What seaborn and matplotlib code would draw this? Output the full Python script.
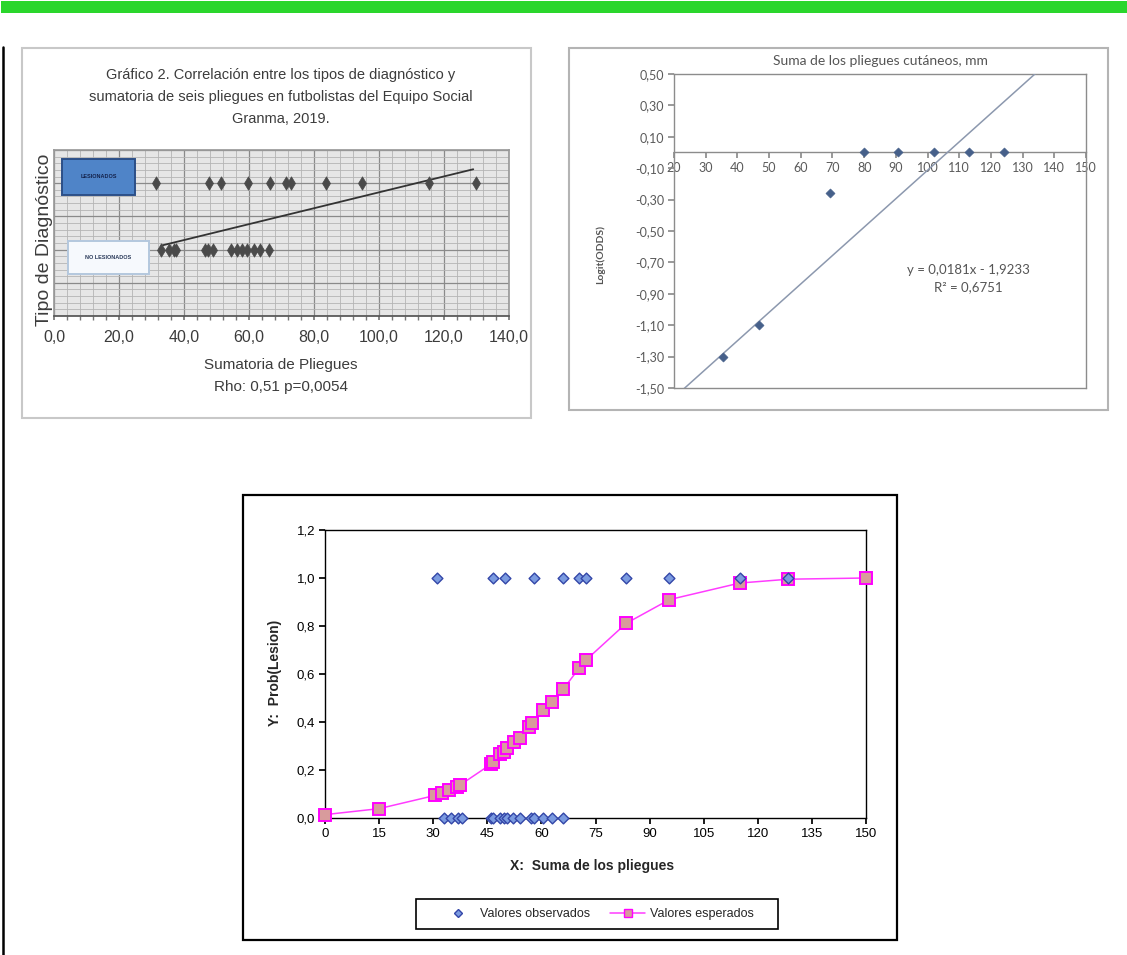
import numpy as np
import matplotlib
matplotlib.use("Agg")
import matplotlib.pyplot as plt
import seaborn as sns
from matplotlib.patches import Rectangle
from matplotlib.lines import Line2D
from matplotlib.ticker import MultipleLocator, FuncFormatter

# Gráfico 2 (arriba izquierda): tipo de diagnóstico vs sumatoria de pliegues
g2_lesionados = [31.4, 47.6, 51.5, 59.8, 66.6, 71.4, 72.8, 83.8, 94.8, 115.4, 129.7]
g2_no_lesionados = [33.0, 35.3, 36.9, 37.6, 46.6, 47.3, 48.9, 54.6, 56.2, 57.8,
                    59.3, 61.4, 63.5, 66.2]
g2_tendencia_x = [33, 129]
g2_tendencia_y = [0.06, 1.21]
g2_xticks = [0, 20, 40, 60, 80, 100, 120, 140]

# Logit(ODDS) vs suma de pliegues (arriba derecha)
logit_x = [35.6, 46.9, 69.1, 80.1, 90.8, 102.0, 113.0, 124.2]
logit_y = [-1.30, -1.10, -0.26, 0.0, 0.0, 0.0, 0.0, 0.0]
logit_pendiente = 0.0181
logit_intercepto = -1.9233
logit_r2 = 0.6751
logit_xticks = list(range(20, 151, 10))
logit_yticks = [0.50, 0.30, 0.10, -0.10, -0.30, -0.50, -0.70, -0.90, -1.10, -1.30, -1.50]

# Probabilidad de lesión (abajo)
obs_lesion_x = [31, 46.5, 50, 58, 66, 70.5, 72.5, 83.5, 95.5, 115, 128.5]
obs_sin_lesion_x = [33, 35, 37, 38, 46, 46.5, 48.5, 49.5, 50.5, 52, 54, 57, 58, 60.5, 63, 66]
esp_x = [0, 15, 30.5, 32.5, 34.5, 36.5, 37.5, 46, 46.5, 48.5, 49.5, 50.5, 52.5, 54,
         56.5, 57.5, 60.5, 63, 66, 70.5, 72.5, 83.5, 95.5, 115, 128.5, 150]
esp_y = [0.014, 0.039, 0.094, 0.106, 0.118, 0.130, 0.138, 0.224, 0.235, 0.265, 0.276,
         0.290, 0.315, 0.335, 0.380, 0.394, 0.452, 0.484, 0.536, 0.625, 0.660, 0.811,
         0.910, 0.979, 0.995, 1.000]
prob_xticks = list(range(0, 151, 15))
prob_yticks = [0.0, 0.2, 0.4, 0.6, 0.8, 1.0, 1.2]

sns.set_theme(style="white")
plt.rcParams['font.family'] = ['Liberation Sans', 'DejaVu Sans']

W, H = 1127, 955
fig = plt.figure(figsize=(W / 100, H / 100), dpi=100)

CALI = ['Lato', 'Liberation Sans', 'DejaVu Sans']


def add_ax(x0, y0, x1, y1):
    return fig.add_axes([x0 / W, 1 - y1 / H, (x1 - x0) / W, (y1 - y0) / H])


def fig_rect(x0, y0, x1, y1, **kw):
    fig.add_artist(Rectangle((x0 / W, 1 - y1 / H), (x1 - x0) / W, (y1 - y0) / H,
                             transform=fig.transFigure, zorder=-5, **kw))


def fig_text(x, y, s, **kw):
    fig.text(x / W, 1 - y / H, s, **kw)


def coma(fmt):
    return FuncFormatter(lambda v, p: format(v, fmt).replace('.', ','))


# franja verde y línea lateral
fig_rect(1, 1, W, 13, facecolor='#2ad62c', edgecolor='none')
fig.add_artist(Line2D([3.5 / W, 3.5 / W], [0, 1 - 47 / H], transform=fig.transFigure,
                      color='black', lw=1.8))

# ---------------- Gráfico izquierda ----------------
fig_rect(22, 48, 531, 418, facecolor='white', edgecolor='#c8c8c8', lw=1.5)
ax1 = add_ax(54, 150, 509, 316)
ax1.set_facecolor('#e6e6e6')
sns.scatterplot(x=g2_lesionados, y=[1] * len(g2_lesionados), marker='d', s=46,
                color='#4a4a4a', edgecolor='#4a4a4a', ax=ax1, zorder=4, legend=False)
sns.scatterplot(x=g2_no_lesionados, y=[0] * len(g2_no_lesionados), marker='d', s=46,
                color='#4a4a4a', edgecolor='#4a4a4a', ax=ax1, zorder=4, legend=False)
sns.lineplot(x=g2_tendencia_x, y=g2_tendencia_y, color='#333333', lw=1.3, ax=ax1, zorder=3)
ax1.set_xlim(0, 140)
ax1.set_ylim(-1.0, 1.5)
ax1.set_xticks(g2_xticks)
ax1.xaxis.set_minor_locator(MultipleLocator(4))
ax1.yaxis.set_major_locator(MultipleLocator(0.5))
ax1.yaxis.set_minor_locator(MultipleLocator(0.1))
ax1.xaxis.set_major_formatter(coma('.1f'))
ax1.yaxis.set_major_formatter(FuncFormatter(lambda v, p: ''))
ax1.grid(which='major', color='#8a8a8a', lw=0.9)
ax1.grid(which='minor', color='#b4b4b4', lw=0.6)
ax1.set_axisbelow(True)
ax1.tick_params(axis='y', which='both', length=0)
ax1.tick_params(axis='x', which='both', direction='out', length=3, color='#777777',
                bottom=True, pad=7, labelsize=11.5, labelcolor='#3c3c3c')
for side in ['top', 'right', 'left']:
    ax1.spines[side].set_color('#9a9a9a')
ax1.spines['bottom'].set_color('#555555')
ax1.set_xlabel('')
ax1.set_ylabel('')

# etiquetas de categoría como cajas
ax1.add_patch(Rectangle((2.6, 0.82), 22.4, 0.55, facecolor='#4f84c8', edgecolor='#2c4f88',
                        lw=1.4, zorder=5))
ax1.text(13.8, 1.1, 'LESIONADOS', fontsize=4, color='#13214a', ha='center', va='center',
         fontweight='bold', zorder=6)
ax1.add_patch(Rectangle((4.2, -0.37), 25, 0.5, facecolor='#f6f9fd', edgecolor='#b4c8de',
                        lw=1.4, zorder=5))
ax1.text(16.7, -0.12, 'NO LESIONADOS', fontsize=4, color='#2a3a5a', ha='center', va='center',
         fontweight='bold', zorder=6)

t1 = dict(ha='center', va='center', color='#3c3c3c')
fig_text(281, 75, 'Gráfico 2. Correlación entre los tipos de diagnóstico y', fontsize=10.5, **t1)
fig_text(281, 97, 'sumatoria de seis pliegues en futbolistas del Equipo Social', fontsize=10.5, **t1)
fig_text(281, 119, 'Granma, 2019.', fontsize=10.5, **t1)
fig_text(281, 365, 'Sumatoria de Pliegues', fontsize=11, **t1)
fig_text(281, 387, 'Rho: 0,51 p=0,0054', fontsize=11, **t1)
fig_text(45, 240, 'Tipo de Diagnóstico', fontsize=14, rotation=90, **t1)

# ---------------- Gráfico derecha (logit) ----------------
fig_rect(569, 48, 1108, 410, facecolor='white', edgecolor='#b4b4b4', lw=1.5)
ax2 = add_ax(674, 74, 1086, 388)
sns.scatterplot(x=logit_x, y=logit_y, marker='D', s=22, color='#46608a',
                edgecolor='#46608a', ax=ax2, zorder=4, legend=False)
linea_x = np.array([20, 150])
sns.lineplot(x=linea_x, y=logit_pendiente * linea_x + logit_intercepto, color='#8c98ae',
             lw=1.1, ax=ax2, zorder=3)
ax2.set_xlim(20, 150)
ax2.set_ylim(-1.5, 0.5)
ax2.set_xticks(logit_xticks)
ax2.set_yticks(logit_yticks)
ax2.xaxis.set_major_formatter(FuncFormatter(lambda v, p: '%d' % v))
ax2.yaxis.set_major_formatter(coma('.2f'))
ax2.spines['bottom'].set_position(('data', 0))
for side in ax2.spines:
    ax2.spines[side].set_color('#8c8c8c')
    ax2.spines[side].set_linewidth(1.0)
ax2.add_line(Line2D([0, 1], [0, 0], transform=ax2.transAxes, color='#8c8c8c', lw=1.0,
                    clip_on=False))
ax2.tick_params(axis='both', direction='out', length=4, color='#8c8c8c', labelsize=9,
                labelcolor='#5a5a5a', pad=3, left=True, bottom=True)
for lab in ax2.get_xticklabels() + ax2.get_yticklabels():
    lab.set_family(CALI)
ax2.set_xlabel('')
ax2.set_ylabel('')
t2 = dict(ha='center', va='center', color='#555555', family=CALI)
fig_text(880, 61, 'Suma de los pliegues cutáneos, mm', fontsize=10, **t2)
fig_text(600, 255, 'Logit(ODDS)', fontsize=7.5, rotation=90, fontweight='bold', **t2)
eq = 'y = %sx - %s' % (format(logit_pendiente, '.4f').replace('.', ','),
                       format(abs(logit_intercepto), '.4f').replace('.', ','))
fig_text(968, 270, eq, fontsize=9.5, **t2)
fig_text(968, 287, 'R² = ' + format(logit_r2, '.4f').replace('.', ','), fontsize=9.5, **t2)

# ---------------- Gráfico inferior (probabilidad) ----------------
fig_rect(243, 495, 897, 940, facecolor='white', edgecolor='black', lw=1.6)
ax3 = add_ax(325, 530, 866, 818)
sns.lineplot(x=esp_x, y=esp_y, color='#ff3cff', lw=1.1, marker='s', markersize=8,
             markerfacecolor='#d89b9c', markeredgecolor='#ff00ff', markeredgewidth=1.4,
             estimator=None, sort=False, ax=ax3, zorder=3, clip_on=False)
sns.scatterplot(x=obs_lesion_x, y=[1.0] * len(obs_lesion_x), marker='D', s=30,
                color='#7b9be0', edgecolor='#3346a8', linewidth=1.0, ax=ax3, zorder=4,
                legend=False)
sns.scatterplot(x=obs_sin_lesion_x, y=[0.0] * len(obs_sin_lesion_x), marker='D', s=30,
                color='#7b9be0', edgecolor='#3346a8', linewidth=1.0, ax=ax3, zorder=4,
                legend=False, clip_on=False)
ax3.set_xlim(0, 150)
ax3.set_ylim(0, 1.2)
ax3.set_xticks(prob_xticks)
ax3.set_yticks(prob_yticks)
ax3.yaxis.set_major_formatter(coma('.1f'))
for side in ax3.spines:
    ax3.spines[side].set_color('black')
    ax3.spines[side].set_linewidth(1.0)
ax3.tick_params(axis='both', direction='out', length=4, color='black', labelsize=9.5,
                labelcolor='black', pad=3, left=True, bottom=True)
ax3.set_xlabel('')
ax3.set_ylabel('')
fig_text(592, 866, 'X:  Suma de los pliegues', fontsize=10, fontweight='bold', ha='center',
         va='center')
fig_text(275, 673, 'Y:  Prob(Lesion)', fontsize=10, fontweight='bold', ha='center',
         va='center', rotation=90)

fig_rect(416, 899, 778, 929, facecolor='white', edgecolor='black', lw=1.2)
handles = [
    Line2D([], [], ls='none', marker='D', markersize=4.5, markerfacecolor='#7b9be0',
           markeredgecolor='#3346a8', label='Valores observados'),
    Line2D([], [], color='#ff3cff', lw=1.1, marker='s', markersize=6,
           markerfacecolor='#d89b9c', markeredgecolor='#ff00ff', label='Valores esperados'),
]
fig.legend(handles=handles, loc='center', bbox_to_anchor=(597 / W, 1 - 914 / H), ncol=2,
           frameon=False, fontsize=9, handlelength=2.8, handletextpad=0.35,
           columnspacing=1.6)

fig.savefig('out.png', dpi=100)
